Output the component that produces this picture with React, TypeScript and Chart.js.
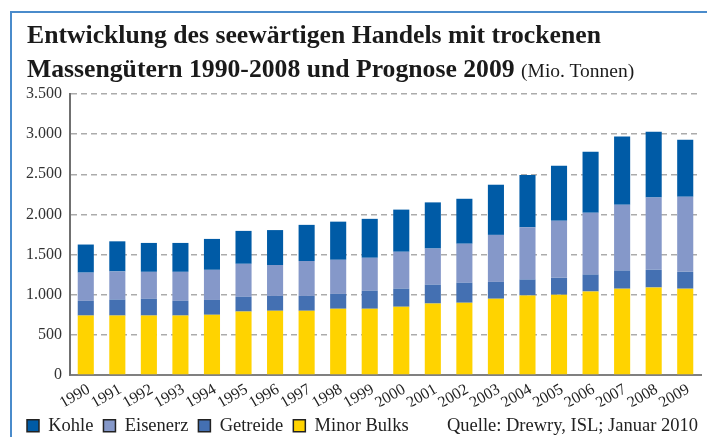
import React, { useEffect, useRef } from "react";
import { Chart, registerables } from "chart.js";

Chart.register(...registerables);

const years = ["1990", "1991", "1992", "1993", "1994", "1995", "1996", "1997", "1998", "1999", "2000", "2001", "2002", "2003", "2004", "2005", "2006", "2007", "2008", "2009"];
const minorBulks = [740, 740, 740, 740, 750, 790, 800, 800, 825, 825, 850, 890, 900, 950, 990, 1000, 1040, 1075, 1090, 1075];
const getreide = [185, 200, 210, 185, 185, 185, 185, 185, 185, 225, 225, 235, 250, 210, 200, 210, 210, 225, 220, 210];
const eisenerz = [350, 350, 335, 360, 375, 410, 385, 435, 425, 410, 460, 450, 485, 585, 650, 710, 770, 820, 900, 935];
const kohle = [350, 375, 360, 360, 385, 410, 435, 450, 475, 485, 525, 575, 560, 625, 650, 685, 760, 850, 820, 710];

const seriesNames = ["Minor Bulks", "Getreide", "Eisenerz", "Kohle"];
const seriesColors = ["#FFD300", "#4470B2", "#8598C9", "#005BA6"];

const yMax = 3500;
const yStep = 500;

const FONT = "'Liberation Serif', 'Times New Roman', serif";

function fmt(v: number): string {
  if (v >= 1000) {
    const th = Math.floor(v / 1000);
    const rest = String(v % 1000).padStart(3, "0");
    return `${th}.${rest}`;
  }
  return String(v);
}

export default function App() {
  const ref = useRef<HTMLCanvasElement>(null);

  useEffect(() => {
    const canvas = ref.current;
    if (!canvas) return;
    const values = [minorBulks, getreide, eisenerz, kohle];
    const chart = new Chart(canvas, {
      type: "bar",
      data: {
        labels: years,
        datasets: values.map((d, i) => ({
          label: seriesNames[i],
          data: d,
          backgroundColor: seriesColors[i],
          borderWidth: 0,
          barPercentage: 0.51,
          categoryPercentage: 1,
        })),
      },
      options: {
        responsive: false,
        animation: false,
        layout: { padding: { left: 17, right: 6, top: 94, bottom: 0 } },
        scales: {
          x: {
            stacked: true,
            grid: { display: false, drawTicks: false },
            border: { display: true, color: "#808080", width: 2 },
            ticks: {
              autoSkip: false,
              minRotation: 30,
              maxRotation: 30,
              padding: 5,
              labelOffset: 3,
              color: "#222",
              font: { family: FONT, size: 16 },
            },
            afterFit: (scale: any) => {
              scale.height = 31.5;
            },
          },
          y: {
            stacked: true,
            min: 0,
            max: yMax,
            grid: {
              color: "#ababab",
              lineWidth: 1.5,
              drawTicks: false,
            },
            border: { display: true, color: "#707070", width: 2, dash: [6, 4] } as any,
            ticks: {
              stepSize: yStep,
              padding: 8,
              color: "#333",
              font: { family: FONT, size: 16 },
              callback: (v: any) => fmt(Number(v)),
            },
            afterFit: (scale: any) => {
              scale.width = 53;
            },
          },
        },
        plugins: {
          title: { display: false },
          tooltip: { enabled: false },
          legend: {
            position: "bottom",
            align: "start",
            labels: {
              boxWidth: 12,
              boxHeight: 12,
              padding: 10,
              color: "#222",
              font: { family: FONT, size: 18.5 },
              sort: (a: any, b: any) => b.datasetIndex - a.datasetIndex,
              generateLabels: (c: any) => {
                const items = Chart.defaults.plugins.legend.labels.generateLabels(c);
                return items.map((it: any) => ({ ...it, strokeStyle: "#222", lineWidth: 1.5 }));
              },
            },
          },
        },
      },
    });
    return () => chart.destroy();
  }, []);

  return (
    <div style={{ position: "fixed", left: 0, top: 0, width: 707, height: 437, overflow: "hidden", background: "#fff" }}>
      <div
        style={{
          position: "absolute",
          left: 10,
          top: 11,
          width: 700,
          height: 430,
          borderTop: "2px solid #4A8BCB",
          borderLeft: "2px solid #4A8BCB",
        }}
      />
      <canvas ref={ref} width={707} height={445} style={{ position: "absolute", left: 0, top: 0, width: 707, height: 445 }} />
      <div
        style={{
          position: "absolute",
          left: 27,
          top: 18,
          fontFamily: FONT,
          fontWeight: "bold",
          fontSize: 25.7,
          lineHeight: "34px",
          color: "#1a1a1a",
          whiteSpace: "nowrap",
        }}
      >
        Entwicklung des seewärtigen Handels mit trockenen
      </div>
      <div
        style={{
          position: "absolute",
          left: 27,
          top: 52,
          fontFamily: FONT,
          fontWeight: "bold",
          fontSize: 25.7,
          lineHeight: "34px",
          color: "#1a1a1a",
          whiteSpace: "nowrap",
        }}
      >
        Massengütern 1990-2008 und Prognose 2009{" "}
        <span style={{ fontWeight: "normal", fontSize: 19.5 }}>(Mio. Tonnen)</span>
      </div>
      <div
        style={{
          position: "absolute",
          right: 9,
          top: 415,
          fontFamily: FONT,
          fontSize: 18.5,
          lineHeight: "20px",
          color: "#222",
          whiteSpace: "nowrap",
        }}
      >
        Quelle: Drewry, ISL; Januar 2010
      </div>
    </div>
  );
}
